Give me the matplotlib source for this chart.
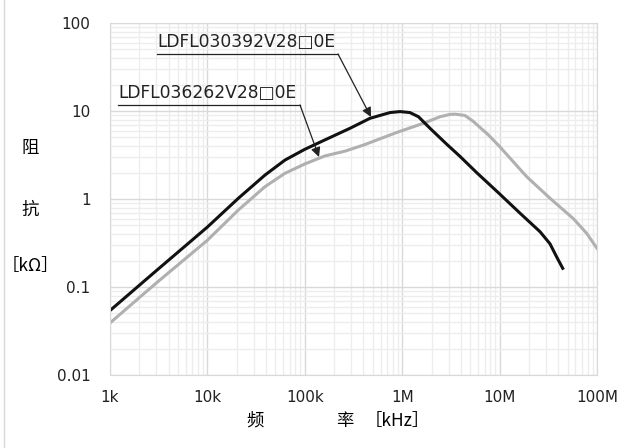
import numpy as np
import matplotlib
matplotlib.use('Agg')
import matplotlib.pyplot as plt
from matplotlib.lines import Line2D
from matplotlib.patches import FancyArrowPatch

# Impedance curves (frequency in kHz, impedance in kOhm)
freq_030392 = [1, 2.9, 10, 20.8, 39, 62.6, 100, 160, 291, 467, 750, 950, 1200, 1470,
               1930, 2860, 3920, 5800, 9860, 16200, 26000, 32900, 38500, 44500]
imp_030392 = [0.054, 0.149, 0.48, 1.02, 1.87, 2.77, 3.67, 4.68, 6.36, 8.26, 9.6, 9.85, 9.6, 8.6,
              6.36, 4.2, 3.05, 2.0, 1.16, 0.69, 0.425, 0.31, 0.22, 0.163]

freq_036262 = [1, 2.9, 10, 20.8, 39, 62.6, 100, 160, 259, 400, 878, 1650, 2440, 3100,
               3500, 4400, 5300, 7600, 10000, 19000, 32900, 57000, 78000, 100000]
imp_036262 = [0.039, 0.108, 0.34, 0.75, 1.38, 1.96, 2.5, 3.08, 3.5, 4.1, 5.7, 7.25, 8.6, 9.15,
              9.2, 8.9, 7.7, 5.4, 3.95, 1.79, 1.02, 0.6, 0.41, 0.275]

x_ticks = [1, 10, 100, 1000, 10000, 100000]
x_tick_labels = ['1k', '10k', '100k', '1M', '10M', '100M']
y_ticks = [0.01, 0.1, 1, 10, 100]
y_tick_labels = ['0.01', '0.1', '1', '10', '100']

label_030392 = 'LDFL030392V28□0E'
label_036262 = 'LDFL036262V28□0E'

W, H = 628, 448
fig = plt.figure(figsize=(W / 100, H / 100), dpi=100)
ax = fig.add_axes([110 / W, 1 - 375 / H, (597 - 110) / W, (375 - 23) / H])

ax.set_xscale('log')
ax.set_yscale('log')
ax.set_xlim(1, 100000)
ax.set_ylim(0.01, 100)

# grid like the Excel chart
ax.grid(True, which='major', color='#d9d9d9', linewidth=1.0)
ax.grid(True, which='minor', color='#ededed', linewidth=1.0)
ax.set_axisbelow(True)
for s in ax.spines.values():
    s.set_color('#d9d9d9')
ax.tick_params(which='both', length=0, labelsize=11, colors='#222222')
ax.tick_params(axis='x', pad=11)
ax.tick_params(axis='y', pad=14)
ax.set_xticks(x_ticks)
ax.set_xticklabels(x_tick_labels)
ax.set_yticks(y_ticks)
ax.set_yticklabels(y_tick_labels)

ax.plot(freq_036262, imp_036262, color='#b0b0b0', linewidth=2.2, solid_joinstyle='round')
ax.plot(freq_030392, imp_030392, color='#111111', linewidth=2.2, solid_joinstyle='round')

# callout labels with underline + arrow
def callout(txt, x0, x1, y_line, tip):
    fig.text(x0 / W, 1 - (y_line - 3) / H, txt, fontsize=12.3, color='#222222',
             ha='left', va='bottom')
    fig.add_artist(Line2D([x0 / W, x1 / W], [1 - y_line / H, 1 - y_line / H],
                          color='#222222', linewidth=0.9))
    fig.add_artist(FancyArrowPatch(
        (x1 / W, 1 - y_line / H), (tip[0] / W, 1 - tip[1] / H),
        transform=fig.transFigure, arrowstyle='-|>', mutation_scale=14,
        color='#222222', linewidth=0.9, shrinkA=0, shrinkB=0))

callout(label_030392, 157, 338, 54, (371, 117))
callout(label_036262, 118, 300, 105, (319, 157))

cjk = ['Noto Sans CJK SC', 'DejaVu Sans']
fig.text(30 / W, 1 - 148 / H, '阻', fontsize=12.5, family=cjk, ha='center', va='center')
fig.text(30 / W, 1 - 210 / H, '抗', fontsize=12.5, family=cjk, ha='center', va='center')
fig.text(30 / W, 1 - 266 / H, '［kΩ］', fontsize=12.5, family=cjk, ha='center', va='center')
fig.text(255 / W, 1 - 421 / H, '频', fontsize=12.5, family=cjk, ha='center', va='center')
fig.text(345 / W, 1 - 421 / H, '率', fontsize=12.5, family=cjk, ha='center', va='center')
fig.text(397 / W, 1 - 421 / H, '［kHz］', fontsize=12.5, family=cjk, ha='center', va='center')

# chart border remnant on the left
fig.add_artist(Line2D([4 / W, 4 / W], [0, 1], color='#d9d9d9', linewidth=1.0))

fig.savefig('out.png', dpi=100)
